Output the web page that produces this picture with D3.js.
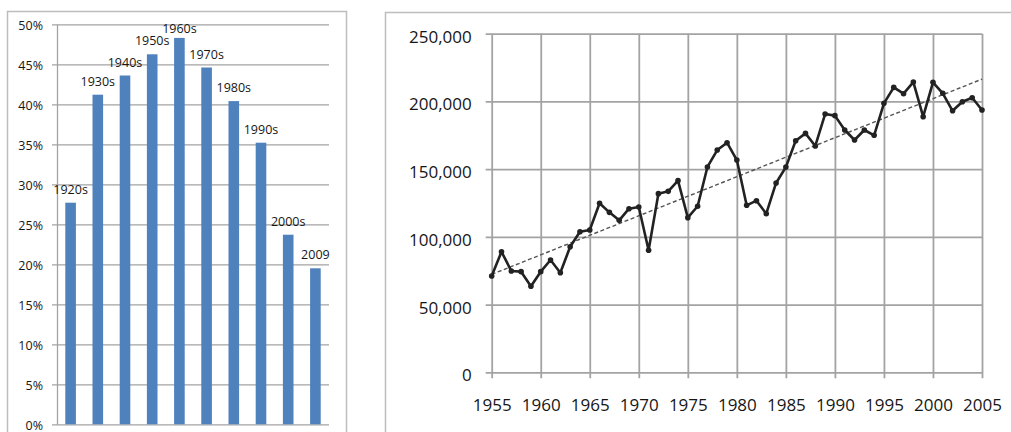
<!DOCTYPE html>
<html>
<head>
<meta charset="utf-8">
<script src="https://cdn.jsdelivr.net/npm/d3@7"></script>
<style>
  body { margin: 0; background: #fff; }
  svg { display: block; font-family: "Open Sans", sans-serif; }
</style>
</head>
<body>
<div id="chart"></div>
<script>
// left panel: share by decade
const decades = ["1920s", "1930s", "1940s", "1950s", "1960s", "1970s", "1980s", "1990s", "2000s", "2009"];
const shares = [0.277, 0.412, 0.436, 0.4625, 0.483, 0.446, 0.404, 0.352, 0.237, 0.195];
const pctTicks = [0, 0.05, 0.10, 0.15, 0.20, 0.25, 0.30, 0.35, 0.40, 0.45, 0.50];

// right panel: yearly counts 1955-2005
const years = d3.range(1955, 2006);
const counts = [
  71100, 89000, 74800, 74300, 63500, 74300, 82900, 73500, 92700, 103800,
  105100, 124800, 118100, 112200, 120800, 122000, 90100, 131900, 133600, 141500,
  114200, 122600, 151600, 164100, 169500, 156700, 123300, 126700, 117100, 139800,
  151500, 171000, 176400, 167100, 190700, 189500, 178900, 171500, 178900, 175000,
  198600, 210400, 205700, 214300, 188700, 214100, 206000, 193100, 199800, 202700,
  193700
];
const yearTicks = d3.range(1955, 2006, 5);
const countTicks = [0, 50000, 100000, 150000, 200000, 250000];

const width = 1011, height = 432;

const svg = d3.select("#chart")
  .append("svg")
  .attr("width", width)
  .attr("height", height);

/*
  Panel frames
*/
svg.append("rect")
  .attr("x", 7.5).attr("y", 11.5)
  .attr("width", 339).attr("height", 440)
  .attr("fill", "none").attr("stroke", "#bdbdbd").attr("stroke-width", 1.5);

svg.append("rect")
  .attr("x", 385.5).attr("y", 12.5)
  .attr("width", 640).attr("height", 440)
  .attr("fill", "none").attr("stroke", "#bdbdbd").attr("stroke-width", 1.5);

/*
  Left: bar chart
*/
const L = { left: 57, right: 329, top: 24.3, bottom: 424.3 };

let xL = d3.scaleBand()
  .domain(decades)
  .range([L.left, L.right])
  .paddingInner(0.61)
  .paddingOuter(0.305);

let yL = d3.scaleLinear()
  .domain([0, 0.5])
  .range([L.bottom, L.top]);

// gridlines
svg.append("g")
  .attr("transform", `translate(${L.left - 5},0)`)
  .call(d3.axisRight(yL).tickValues(pctTicks).tickSize(L.right - L.left + 5).tickFormat(""))
  .call(g => g.select(".domain").remove())
  .call(g => g.selectAll("line").attr("stroke", "#a3a3a3").attr("stroke-width", 1.3));

// axis + labels
svg.append("g")
  .attr("transform", `translate(${L.left},0)`)
  .call(d3.axisLeft(yL).tickValues(pctTicks).tickSize(0).tickPadding(14)
          .tickFormat(d3.format(".0%")))
  .call(g => g.select(".domain").attr("stroke", "#a3a3a3").attr("stroke-width", 1.3))
  .call(g => g.selectAll("text")
          .attr("font-family", "Open Sans").attr("font-size", "12.5px")
          .attr("fill", "#161616").attr("dy", "0.4em"));

svg.selectAll(".bar")
  .data(shares)
  .enter()
  .append("rect")
    .attr("class", "bar")
    .attr("x", (d, i) => xL(decades[i]))
    .attr("y", d => yL(d))
    .attr("width", xL.bandwidth())
    .attr("height", d => yL(0) - yL(d))
    .attr("fill", "#4f81bd");

svg.selectAll(".barlabel")
  .data(shares)
  .enter()
  .append("text")
    .attr("class", "barlabel")
    .attr("x", (d, i) => xL(decades[i]) + xL.bandwidth() / 2)
    .attr("y", d => Math.max(yL(d) - 9, L.top + 9))
    .attr("text-anchor", "middle")
    .attr("font-size", "12.5px")
    .attr("fill", "#161616")
    .text((d, i) => decades[i]);

/*
  Right: line chart with trend
*/
const R = { left: 491.7, right: 982, top: 33.7, bottom: 372.3 };

let xR = d3.scaleLinear()
  .domain([1955, 2005])
  .range([R.left, R.right]);

let yR = d3.scaleLinear()
  .domain([0, 250000])
  .range([R.bottom, R.top]);

// horizontal grid
svg.append("g")
  .attr("transform", `translate(${R.left - 6},0)`)
  .call(d3.axisRight(yR).tickValues(countTicks).tickSize(R.right - R.left + 6).tickFormat(""))
  .call(g => g.select(".domain").remove())
  .call(g => g.selectAll("line").attr("stroke", "#a3a3a3").attr("stroke-width", 1.8));

// vertical grid
svg.append("g")
  .attr("transform", `translate(0,${R.top})`)
  .call(d3.axisBottom(xR).tickValues(yearTicks).tickSize(R.bottom - R.top + 6).tickFormat(""))
  .call(g => g.select(".domain").remove())
  .call(g => g.selectAll("line").attr("stroke", "#a3a3a3").attr("stroke-width", 1.8));

svg.append("g")
  .attr("transform", `translate(${R.left},0)`)
  .call(d3.axisLeft(yR).tickValues(countTicks).tickSize(0).tickPadding(20)
          .tickFormat(d3.format(",")))
  .call(g => g.select(".domain").remove())
  .call(g => g.selectAll("text")
          .attr("font-family", "Open Sans").attr("font-size", "17px")
          .attr("fill", "#161616").attr("dy", "0.5em"));

svg.append("g")
  .attr("transform", `translate(0,${R.bottom})`)
  .call(d3.axisBottom(xR).tickValues(yearTicks).tickSize(0).tickPadding(27)
          .tickFormat(d3.format("d")))
  .call(g => g.select(".domain").remove())
  .call(g => g.selectAll("text")
          .attr("font-family", "Open Sans").attr("font-size", "17px")
          .attr("fill", "#161616"));

// least-squares trend, as Excel draws it
const mx = d3.mean(years), my = d3.mean(counts);
const slope = d3.sum(years, (y, i) => (y - mx) * (counts[i] - my)) /
              d3.sum(years, y => (y - mx) * (y - mx));
const trend = [1955, 2005].map(y => [y, my + slope * (y - mx)]);

svg.append("path")
  .datum(trend)
  .attr("fill", "none")
  .attr("stroke", "#555")
  .attr("stroke-width", 1.4)
  .attr("stroke-dasharray", "4,2.5")
  .attr("d", d3.line().x(d => xR(d[0])).y(d => yR(d[1])));

const series = years.map((y, i) => [y, counts[i]]);

svg.append("path")
  .datum(series)
  .attr("fill", "none")
  .attr("stroke", "#222")
  .attr("stroke-width", 2.6)
  .attr("stroke-linejoin", "round")
  .attr("d", d3.line().x(d => xR(d[0])).y(d => yR(d[1])));

svg.selectAll(".pt")
  .data(series)
  .enter()
  .append("circle")
    .attr("class", "pt")
    .attr("cx", d => xR(d[0]))
    .attr("cy", d => yR(d[1]))
    .attr("r", 2.8)
    .attr("fill", "#222");
</script>
</body>
</html>
